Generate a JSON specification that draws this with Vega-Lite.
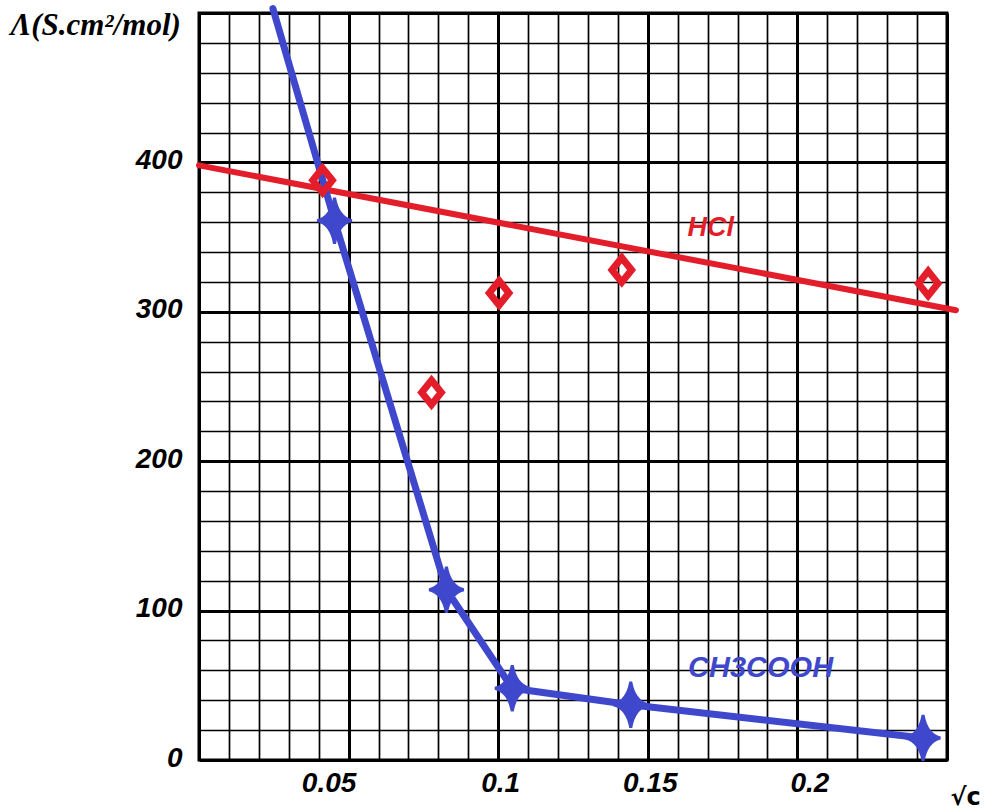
{
  "$schema": "https://vega.github.io/schema/vega-lite/v6.json",
  "width": 748,
  "height": 747,
  "autosize": {"type": "none"},
  "padding": {"left": 199, "top": 13, "right": 37, "bottom": 49},
  "background": "white",
  "config": {"view": {"stroke": "black", "strokeWidth": 3}},
  "datasets": {
    "hclFit": [{"x": 0.0, "y": 398}, {"x": 0.253, "y": 301}],
    "hclPts": [
      {"x": 0.0413, "y": 388},
      {"x": 0.0777, "y": 246},
      {"x": 0.1003, "y": 312.6},
      {"x": 0.1413, "y": 328},
      {"x": 0.2437, "y": 319}
    ],
    "acLine": [
      {"x": 0.0247, "y": 503},
      {"x": 0.0453, "y": 361},
      {"x": 0.0827, "y": 114},
      {"x": 0.1047, "y": 48},
      {"x": 0.1443, "y": 37},
      {"x": 0.242, "y": 14.7}
    ],
    "acPts": [
      {"x": 0.0453, "y": 361},
      {"x": 0.0827, "y": 114},
      {"x": 0.1047, "y": 48},
      {"x": 0.1443, "y": 37},
      {"x": 0.242, "y": 14.7}
    ],
    "hclLabel": [{"x": 0.171, "y": 356, "label": "HCl"}],
    "acLabel": [{"x": 0.1877, "y": 61.6, "label": "CH3COOH"}]
  },
  "encoding": {
    "x": {
      "field": "x",
      "type": "quantitative",
      "scale": {"domain": [0, 0.25], "nice": false, "zero": false},
      "axis": {
        "values": [0, 0.01, 0.02, 0.03, 0.04, 0.05, 0.06, 0.07, 0.08, 0.09, 0.1, 0.11, 0.12, 0.13, 0.14, 0.15, 0.16, 0.17, 0.18, 0.19, 0.2, 0.21, 0.22, 0.23, 0.24, 0.25],
        "grid": true,
        "gridColor": "black",
        "gridOpacity": 1,
        "gridWidth": {"condition": {"test": "abs(datum.value*20 - round(datum.value*20)) < 0.001", "value": 3}, "value": 1.7},
        "domain": false,
        "ticks": false,
        "labelExpr": "datum.value > 0.001 && datum.value < 0.249 && abs(datum.value*20 - round(datum.value*20)) < 0.001 ? format(datum.value, '~g') : ''",
        "labelOverlap": false,
        "labelFlush": false,
        "labelBound": false,
        "labelFont": "Liberation Sans",
        "labelFontSize": 28,
        "labelFontWeight": "bold",
        "labelFontStyle": "italic",
        "labelColor": "black",
        "labelPadding": 9,
        "labelBaseline": "top",
        "labelOffset": {"condition": [{"test": "abs(datum.value - 0.05) < 0.001", "value": -20}, {"test": "abs(datum.value - 0.2) < 0.001", "value": 12}], "value": 2},
        "title": "√c",
        "titleFont": "DejaVu Sans",
        "titleFontSize": 24,
        "titleFontWeight": "bold",
        "titleColor": "black",
        "titleX": 766,
        "titleY": 44,
        "titleAlign": "center",
        "titleBaseline": "alphabetic"
      }
    },
    "y": {
      "field": "y",
      "type": "quantitative",
      "scale": {"domain": [0, 500], "nice": false, "zero": false},
      "axis": {
        "values": [0, 20, 40, 60, 80, 100, 120, 140, 160, 180, 200, 220, 240, 260, 280, 300, 320, 340, 360, 380, 400, 420, 440, 460, 480, 500],
        "grid": true,
        "gridColor": "black",
        "gridOpacity": 1,
        "gridWidth": {"condition": {"test": "datum.value % 100 == 0", "value": 3}, "value": 1.7},
        "domain": false,
        "ticks": false,
        "labelExpr": "datum.value % 100 == 0 && datum.value <= 400 ? format(datum.value, 'd') : ''",
        "labelOverlap": false,
        "labelFlush": false,
        "labelBound": false,
        "labelFont": "Liberation Sans",
        "labelFontSize": 28,
        "labelFontWeight": "bold",
        "labelFontStyle": "italic",
        "labelColor": "black",
        "labelPadding": 17,
        "labelBaseline": "middle",
        "labelOffset": -2,
        "title": "Λ(S.cm²/mol)",
        "titleFont": "Liberation Serif",
        "titleFontSize": 31,
        "titleFontWeight": "bold",
        "titleFontStyle": "italic",
        "titleColor": "black",
        "titleAngle": 0,
        "titleAlign": "left",
        "titleBaseline": "alphabetic",
        "titleX": -189,
        "titleY": 21
      }
    }
  },
  "layer": [
    {
      "data": {"name": "hclFit"},
      "mark": {"type": "line", "color": "#E31E2A", "strokeWidth": 6, "strokeCap": "round", "clip": false}
    },
    {
      "data": {"name": "acLine"},
      "mark": {"type": "line", "color": "#3F48CC", "strokeWidth": 7, "strokeCap": "round", "strokeJoin": "round", "clip": false}
    },
    {
      "data": {"name": "hclPts"},
      "mark": {"type": "point", "shape": "M0,-1 L0.8,0 L0,1 L-0.8,0 Z", "size": 600, "filled": false, "stroke": "#E31E2A", "strokeWidth": 7, "opacity": 1}
    },
    {
      "data": {"name": "acPts"},
      "mark": {"type": "point", "shape": "M0,-1 Q0.15,-0.15 0.75,0 Q0.15,0.15 0,1 Q-0.15,0.15 -0.75,0 Q-0.15,-0.15 0,-1 Z", "size": 2116, "filled": true, "fill": "#3F48CC", "stroke": "#3F48CC", "strokeWidth": 3, "opacity": 1}
    },
    {
      "data": {"name": "hclLabel"},
      "mark": {"type": "text", "font": "Liberation Sans", "fontSize": 27, "fontWeight": "bold", "fontStyle": "italic", "color": "#E31E2A", "align": "center", "baseline": "middle"},
      "encoding": {"text": {"field": "label"}}
    },
    {
      "data": {"name": "acLabel"},
      "mark": {"type": "text", "font": "Liberation Sans", "fontSize": 29, "fontWeight": "bold", "fontStyle": "italic", "color": "#3F48CC", "align": "center", "baseline": "middle"},
      "encoding": {"text": {"field": "label"}}
    }
  ]
}
